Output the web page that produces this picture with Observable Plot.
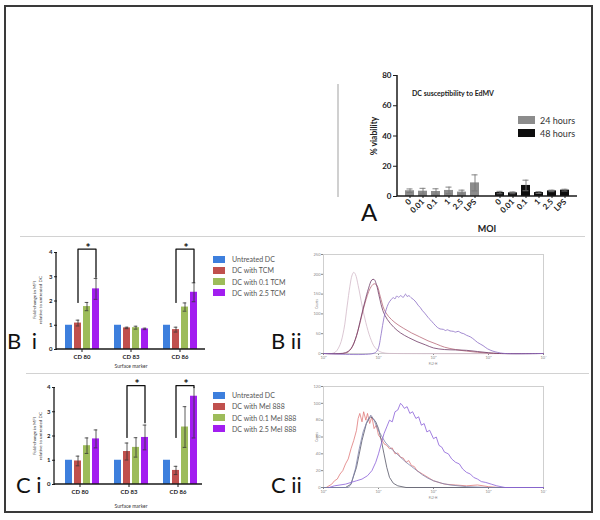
<!DOCTYPE html>
<html><head><meta charset="utf-8">
<script src="https://cdn.jsdelivr.net/npm/d3@7"></script>
<script src="https://cdn.jsdelivr.net/npm/@observablehq/plot@0.6"></script>
<style>
body{margin:0;background:#fff;font-family:Lato,"Open Sans",sans-serif;}
#root{position:relative;width:600px;height:520px;overflow:hidden;background:#fff}
.abs{position:absolute;white-space:nowrap;line-height:1}
.c{transform:translate(-50%,-50%)}
.cl{transform:translate(0,-50%)}
.r{transform:translate(-50%,-50%) rotate(-90deg);text-align:center}
</style></head><body><div id="root"></div>
<script>
// ---------- Panel A data ----------
const moiLabels = ["0","0.01","0.1","1","2.5","LPS"];
const timepoints = ["24 hours","48 hours"];
const viability24 = [3.8,3.5,3.3,4.0,2.9,9.0];
const viabilityErr24 = [1.2,1.9,1.8,2.2,1.3,5.3];
const viability48 = [2.6,2.4,7.3,2.6,3.7,4.2];
const viabilityErr48 = [0.8,0.6,3.5,0.6,0.5,0.6];
const timeColors = ["#8c8c8c","#0d0d0d"];
const aTicks = [0,20,40,60,80];

// ---------- Panels Bi / Ci data ----------
const markers = ["CD 80","CD 83","CD 86"];
const seriesB = ["Untreated DC","DC with TCM","DC with 0.1 TCM","DC with 2.5 TCM"];
const seriesC = ["Untreated DC","DC with Mel 888","DC with 0.1 Mel 888","DC with 2.5 Mel 888"];
const groupColors = ["#3d7fdd","#c0504d","#9dbc5a","#a21ef0"];
const foldTicks = [0,1,2,3,4];

const biUntreated = [1.0,1.0,1.0];
const biTCM = [1.09,0.89,0.82];
const biTCMErr = [0.12,0.03,0.10];
const biTCM01 = [1.77,0.90,1.75];
const biTCM01Err = [0.17,0.06,0.17];
const biTCM25 = [2.50,0.85,2.36];
const biTCM25Err = [0.43,0.03,0.39];
const biBrackets = [
  {marker:"CD 80", left:1.94, top:4.14, right:2.98},
  {marker:"CD 86", left:1.94, top:4.14, right:2.77}
];

const ciUntreated = [1.0,1.0,1.0];
const ciMel = [0.97,1.36,0.58];
const ciMelErr = [0.20,0.35,0.17];
const ciMel01 = [1.60,1.53,2.37];
const ciMel01Err = [0.32,0.40,0.84];
const ciMel25 = [1.88,1.94,3.64];
const ciMel25Err = [0.37,0.51,1.72];
const ciBrackets = [
  {marker:"CD 83", left:1.94, top:4.08, right:2.55},
  {marker:"CD 86", left:1.94, top:4.08, right:4.0}
];

// ---------- Panels Bii / Cii histogram data: [log10 fluorescence, counts] ----------
const biiIsotype = [[0,0],[0.15,0],[0.22,4],[0.3,22],[0.37,60],[0.43,120],[0.48,170],[0.52,198],[0.55,205],[0.58,200],[0.63,172],[0.7,122],[0.77,78],[0.85,40],[0.93,16],[1.02,5],[1.12,1],[1.3,0],[4,0]];
const biiUntreated = [[0,0],[0.3,0],[0.4,2],[0.5,12],[0.6,45],[0.68,90],[0.75,130],[0.82,165],[0.88,186],[0.92,187],[0.96,175],[1.02,140],[1.08,108],[1.16,86],[1.28,66],[1.4,52],[1.55,40],[1.7,30],[1.85,22],[2.0,14],[2.2,10],[2.4,9],[2.6,8],[2.8,5],[3.0,2],[3.2,0],[4,0]];
const biiTCM = [[0,0],[0.35,0],[0.45,4],[0.55,25],[0.65,70],[0.75,125],[0.85,165],[0.92,176],[0.97,172],[1.03,145],[1.1,112],[1.18,94],[1.3,78],[1.45,64],[1.6,52],[1.75,42],[1.9,32],[2.05,24],[2.2,16],[2.4,10],[2.6,6],[2.8,3],[3.0,1],[3.2,0],[4,0]];
const biiTCM25 = [[0,0],[0.9,0],[0.98,8],[1.05,50],[1.1,91],[1.18,126],[1.23,136],[1.27,141],[1.3,138],[1.33,145],[1.37,142],[1.4,146],[1.45,142],[1.49,150],[1.52,144],[1.55,146],[1.6,140],[1.64,136],[1.68,130],[1.72,122],[1.76,116],[1.8,108],[1.84,102],[1.88,95],[1.92,88],[1.95,84],[2.0,76],[2.04,70],[2.07,66],[2.12,62],[2.18,61],[2.22,58],[2.25,60],[2.3,57],[2.36,56],[2.4,54],[2.45,56],[2.5,52],[2.55,50],[2.6,46],[2.67,42],[2.74,35],[2.8,28],[2.9,20],[2.98,12],[3.08,6],[3.16,3],[3.3,0],[4,0]];

const ciiMel = [[0.05,0],[0.1,2],[0.15,4],[0.2,8],[0.25,10],[0.3,16],[0.35,20],[0.4,28],[0.45,34],[0.5,46],[0.55,56],[0.6,68],[0.63,82],[0.66,88],[0.7,78],[0.73,90],[0.77,80],[0.8,88],[0.84,76],[0.88,84],[0.92,70],[0.96,74],[1.0,62],[1.05,58],[1.1,52],[1.15,50],[1.2,46],[1.25,47],[1.3,40],[1.35,41],[1.4,36],[1.45,35],[1.5,30],[1.55,32],[1.6,26],[1.65,25],[1.7,20],[1.8,16],[1.9,12],[2.0,8],[2.1,6],[2.2,4],[2.4,3],[2.6,2],[2.8,3],[3.0,1],[3.2,0],[4,0]];
const ciiIsotype = [[0,0],[0.4,0],[0.5,4],[0.6,24],[0.7,56],[0.78,76],[0.85,84],[0.9,82],[0.95,78],[1.0,70],[1.05,56],[1.1,40],[1.15,24],[1.2,12],[1.27,5],[1.35,2],[1.5,0],[4,0]];
const ciiUntreated = [[0,0],[0.45,0],[0.5,4],[0.58,22],[0.65,46],[0.72,66],[0.8,80],[0.86,86],[0.92,80],[0.98,70],[1.05,62],[1.12,54],[1.2,48],[1.3,42],[1.4,36],[1.5,30],[1.6,25],[1.7,20],[1.8,15],[1.9,11],[2.0,8],[2.15,5],[2.3,3],[2.6,1],[3.0,0],[4,0]];
const ciiMel25 = [[0.1,0],[0.2,2],[0.3,3],[0.4,4],[0.5,6],[0.6,8],[0.7,10],[0.8,14],[0.88,20],[0.95,30],[1.0,40],[1.05,52],[1.1,64],[1.15,72],[1.2,80],[1.25,78],[1.3,90],[1.35,92],[1.4,100],[1.43,98],[1.47,94],[1.52,96],[1.57,88],[1.62,90],[1.68,82],[1.73,84],[1.78,74],[1.83,76],[1.88,66],[1.93,68],[2.0,58],[2.05,60],[2.1,50],[2.15,48],[2.2,42],[2.27,40],[2.33,34],[2.4,30],[2.47,28],[2.53,22],[2.6,18],[2.67,16],[2.73,12],[2.8,10],[2.87,7],[2.95,6],[3.05,4],[3.15,2],[3.3,0],[4,0]];
const logTicks = [0,1,2,3,4];
const biiCountTicks = [0,50,100,150,200,250];
const ciiCountTicks = [0,20,40,60,80,100,120];

// ---------- helpers ----------
const root = document.getElementById("root");
function put(el, left, top){ const w=document.createElement("div"); w.className="abs"; w.style.left=left+"px"; w.style.top=top+"px"; w.appendChild(el); root.appendChild(w); return w; }
function txt(html, left, top, cls, css){ const d=document.createElement("div"); d.className="abs "+(cls||""); d.style.left=left+"px"; d.style.top=top+"px"; d.innerHTML=html; Object.assign(d.style, css||{}); root.appendChild(d); return d; }
function box(left, top, w, h, css){ const d=document.createElement("div"); d.className="abs"; Object.assign(d.style,{left:left+"px",top:top+"px",width:w+"px",height:h+"px"}, css||{}); root.appendChild(d); return d; }
function axisLines(plot, ml, mr, w, sw){
  const [yb, yt] = plot.scale("y").range;
  const s = d3.select(plot);
  s.append("line").attr("x1", ml).attr("x2", w-mr).attr("y1", yb).attr("y2", yb).attr("stroke","#1a1a1a").attr("stroke-width", sw);
  s.append("line").attr("x1", ml).attr("x2", ml).attr("y1", yb).attr("y2", yt).attr("stroke","#1a1a1a").attr("stroke-width", sw);
}
function buildRows(series, means, errs){
  const rows=[];
  markers.forEach((m,i)=>series.forEach((s,j)=>rows.push({marker:m, s, v:means[j][i], e:errs[j]?errs[j][i]:0})));
  return rows;
}

// outer frame and dividers
box(4,5,589,508,{border:"2px solid #3a3a3a",boxSizing:"border-box"});
box(20,236,565,1,{background:"#d2d2d2"});
box(26,373,563,1,{background:"#d2d2d2"});
box(337,84,1.5,113,{background:"#d0d0d0"});

// ---------- Panel A ----------
const aRows = [];
moiLabels.forEach((m,i)=>aRows.push({time:timepoints[0], moi:m, v:viability24[i], e:viabilityErr24[i]}));
moiLabels.forEach((m,i)=>aRows.push({time:timepoints[1], moi:m, v:viability48[i], e:viabilityErr48[i]}));
const aW=245, aML=57, aMR=8;
const plotA = Plot.plot({
  width:aW, height:158, marginLeft:aML, marginRight:aMR, marginTop:13, marginBottom:24,
  style:{fontFamily:"Lato, sans-serif", fontSize:"8px", fontWeight:"bold", color:"#1a1a1a", background:"transparent", overflow:"visible"},
  fx:{domain:timepoints, padding:0, axis:null, label:null},
  x:{domain:moiLabels, paddingInner:0.275, paddingOuter:0.4, tickRotate:-45, tickSize:2, tickPadding:2, label:null},
  y:{domain:[0,80], ticks:aTicks, tickFormat:d=>String(d), tickSize:4, tickPadding:2, label:null},
  color:{domain:timepoints, range:timeColors},
  marks:[
    Plot.barY(aRows,{fx:"time", x:"moi", y:"v", fill:"time"}),
    Plot.ruleX(aRows,{fx:"time", x:"moi", y1:d=>d.v-d.e, y2:d=>d.v+d.e, stroke:"#777", strokeWidth:0.9}),
    Plot.tickY(aRows,{fx:"time", x:"moi", y:d=>d.v+d.e, stroke:"#777", strokeWidth:0.9, insetLeft:1.5, insetRight:1.5}),
    Plot.tickY(aRows,{fx:"time", x:"moi", y:d=>d.v-d.e, stroke:"#777", strokeWidth:0.9, insetLeft:1.5, insetRight:1.5})
  ]
});
axisLines(plotA, aML, aMR, aW, 1.5);
put(plotA, 340, 62);
txt("DC susceptibility to EdMV", 412, 93, "cl", {fontSize:"7px", fontWeight:"bold", color:"#222"});
txt("% viability", 374, 136, "r", {fontSize:"8.5px", fontWeight:"bold", color:"#222"});
txt("MOI", 487, 228, "c", {fontSize:"9px", fontWeight:"bold", color:"#222"});
txt("A", 361, 212, "cl", {fontSize:"24px", color:"#111"});
timepoints.forEach((t,i)=>{
  box(518, 116+i*13, 17, 8, {background:timeColors[i]});
  txt(t, 540, 120+i*13, "cl", {fontSize:"9px", color:"#333"});
});

// ---------- Bi / Ci bar panels ----------
function barPanel({series, means, errs, brackets, left, top, width, height, ml, mt, mb, align, po, clip}){
  const rows = buildRows(series, means, errs);
  const errRows = rows.filter(d=>d.e>0);
  const pts=[], stars=[];
  brackets.forEach((b,k)=>{
    pts.push({id:k, marker:b.marker, s:series[1], v:b.left});
    pts.push({id:k, marker:b.marker, s:series[1], v:b.top});
    pts.push({id:k, marker:b.marker, s:series[3], v:b.top});
    pts.push({id:k, marker:b.marker, s:series[3], v:b.right});
    stars.push({marker:b.marker, s:series[2], v:b.top});
  });
  const p = Plot.plot({
    width, height, marginLeft:ml, marginRight:5, marginTop:mt, marginBottom:mb,
    style:{fontFamily:"Lato, sans-serif", fontSize:"6px", fontWeight:"bold", color:"#1a1a1a", background:"transparent", overflow:"visible"},
    fx:{domain:markers, padding:0, axis:"bottom", tickSize:3, tickPadding:2, label:null},
    x:{domain:series, paddingInner:0.25, paddingOuter:po, align, axis:null},
    y:{domain:[0,4], ticks:foldTicks, tickFormat:d=>String(d), tickSize:3, tickPadding:2, label:null},
    color:{domain:series, range:groupColors},
    marks:[
      Plot.barY(rows,{fx:"marker", x:"s", y:"v", fill:"s"}),
      Plot.ruleX(errRows,{fx:"marker", x:"s", y1:d=>d.v-d.e, y2:d=>d.v+d.e, stroke:"#333", strokeWidth:0.8, clip}),
      Plot.tickY(errRows,{fx:"marker", x:"s", y:d=>d.v+d.e, stroke:"#333", strokeWidth:0.8, insetLeft:1.7, insetRight:1.7, clip}),
      Plot.tickY(errRows,{fx:"marker", x:"s", y:d=>d.v-d.e, stroke:"#333", strokeWidth:0.8, insetLeft:1.7, insetRight:1.7, clip}),
      Plot.line(pts,{fx:"marker", x:"s", y:"v", z:"id", stroke:"#111", strokeWidth:1.3}),
      Plot.text(stars,{fx:"marker", x:"s", y:"v", text:()=>"*", fontSize:12, fontWeight:"bold", fill:"#111", lineAnchor:"middle", dx:1, dy:-1})
    ]
  });
  axisLines(p, ml, 5, width, 1.3);
  put(p, left, top);
}
barPanel({series:seriesB, means:[biUntreated,biTCM,biTCM01,biTCM25], errs:[null,biTCMErr,biTCM01Err,biTCM25Err], brackets:biBrackets,
  left:20, top:238, width:190, height:133, ml:36, mt:14, mb:22, align:0.5, po:0.685, clip:false});
barPanel({series:seriesC, means:[ciUntreated,ciMel,ciMel01,ciMel25], errs:[null,ciMelErr,ciMel01Err,ciMel25Err], brackets:ciBrackets,
  left:20, top:373, width:187, height:127, ml:34, mt:14, mb:16, align:0.645, po:0.668, clip:true});

function legend(series, top0){
  series.forEach((s,i)=>{
    box(213, top0+i*11.3-3.5, 12, 7, {background:groupColors[i]});
    txt(s, 232, top0+i*11.3, "cl", {fontSize:"7px", color:"#555"});
  });
}
legend(seriesB, 259);
legend(seriesC, 395);
const ylab = "Fold-change in MFI<br>relative to untreated DC";
txt(ylab, 38, 300, "r", {fontSize:"4.5px", lineHeight:"1.35", color:"#333"});
txt(ylab, 38, 436, "r", {fontSize:"4.5px", lineHeight:"1.35", color:"#333"});
txt("Surface marker", 131, 366, "c", {fontSize:"5px", color:"#333"});
txt("Surface marker", 131, 506, "c", {fontSize:"5px", color:"#333"});
txt("B i", 7, 341, "cl", {fontSize:"22px", color:"#111", wordSpacing:"5px"});
txt("B ii", 271, 341, "cl", {fontSize:"22px", color:"#111"});
txt("C i", 16, 485, "cl", {fontSize:"22px", color:"#111"});
txt("C ii", 271, 485, "cl", {fontSize:"22px", color:"#111"});

// ---------- Bii / Cii histograms ----------
const sup = "⁰¹²³⁴";
function histPanel({curves, yTicks, ymax, left, top, height, mb, curve}){
  const p = Plot.plot({
    width:250, height, marginLeft:23, marginRight:7, marginTop:10, marginBottom:mb,
    style:{fontFamily:"Lato, sans-serif", fontSize:"4px", color:"#888", background:"transparent", overflow:"visible"},
    x:{domain:[0,4], ticks:logTicks, tickFormat:d=>"10"+sup[d], tickSize:2, tickPadding:1, label:null},
    y:{domain:[0,ymax], ticks:yTicks, tickSize:2, tickPadding:1, label:null},
    marks:[
      Plot.frame({stroke:"#cfcfcf"}),
      ...curves.map(c=>Plot.line(c.data,{x:d=>d[0], y:d=>d[1], stroke:c.color, strokeWidth:0.8, curve}))
    ]
  });
  put(p, left, top);
}
histPanel({curves:[
  {data:biiIsotype, color:"#d2b9c8"},
  {data:biiTCM, color:"#b86a78"},
  {data:biiUntreated, color:"#6e3a66"},
  {data:biiTCM25, color:"#8a6cc4"}],
  yTicks:biiCountTicks, ymax:250, left:300, top:244, height:123, mb:14, curve:"catmull-rom"});
histPanel({curves:[
  {data:ciiMel, color:"#e07a7a"},
  {data:ciiIsotype, color:"#555566"},
  {data:ciiUntreated, color:"#7e82a8"},
  {data:ciiMel25, color:"#8a5fd8"}],
  yTicks:ciiCountTicks, ymax:120, left:300, top:376, height:125, mb:14, curve:"linear"});
txt("Counts", 317, 304, "r", {fontSize:"3px", color:"#777"});
txt("FL2-H", 433, 364, "c", {fontSize:"3px", color:"#777"});
txt("Counts", 317, 437, "r", {fontSize:"3px", color:"#777"});
txt("FL2-H", 433, 498, "c", {fontSize:"3px", color:"#777"});
</script></body></html>
